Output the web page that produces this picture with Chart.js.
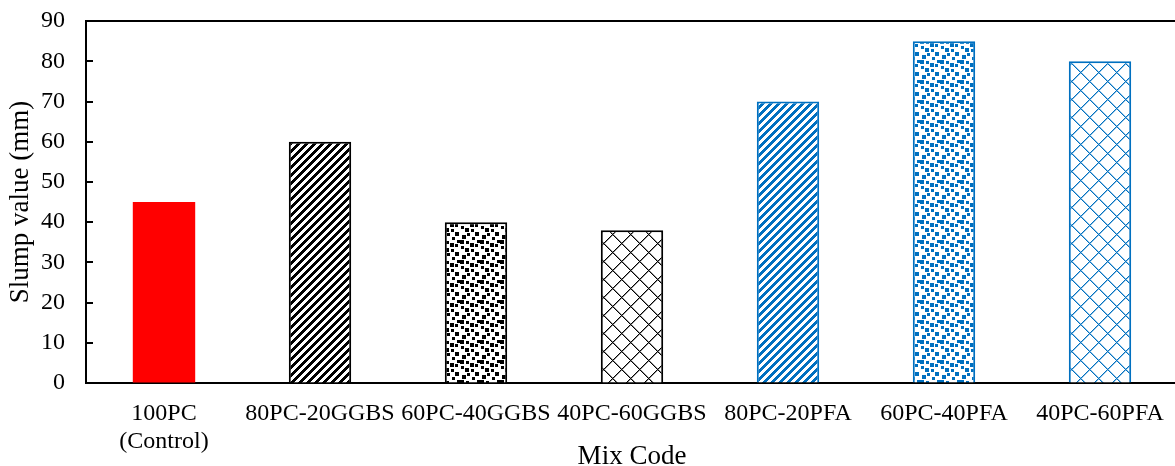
<!DOCTYPE html>
<html>
<head>
<meta charset="utf-8">
<script src="https://cdn.jsdelivr.net/npm/chart.js@4"></script>
<style>
html,body{margin:0;padding:0;background:#fff;overflow:hidden;}
#wrap{position:relative;width:1180px;height:466px;}
</style>
</head>
<body>
<div id="wrap"><canvas id="c" width="1180" height="466"></canvas></div>
<script>
const categories = [["100PC","(Control)"],"80PC-20GGBS","60PC-40GGBS","40PC-60GGBS","80PC-20PFA","60PC-40PFA","40PC-60PFA"];
const slumpValues = [45, 60, 40, 38, 70, 85, 80];
const yTicks = [0,10,20,30,40,50,60,70,80,90];
const xTitle = "Mix Code";
const yTitle = "Slump value (mm)";

const BLUE = '#0070C0';
const FONT = "'Liberation Serif', 'Times New Roman', serif";

function makeTile(size, color, test) {
  const cv = document.createElement('canvas');
  cv.width = size; cv.height = size;
  const ctx = cv.getContext('2d');
  ctx.fillStyle = '#fff';
  ctx.fillRect(0,0,size,size);
  ctx.fillStyle = color;
  for (let y=0;y<size;y++) for (let x=0;x<size;x++) {
    const v = test(x,y);
    if (v) { ctx.globalAlpha = v; ctx.fillRect(x,y,1,1); }
  }
  ctx.globalAlpha = 1;
  return document.getElementById('c').getContext('2d').createPattern(cv,'repeat');
}
function stripes(color){ return makeTile(8,color,(x,y)=>((x+y)%8)<4 ? 1 : 0); }
const confettiPts = [[0,0,4],[10,3,4],[5,8,4],[15,12,4],[2,15,4],[6,1,3],[15,4,3],[1,6,3],[11,9,3],[7,13,3],[12,17,3],[17,0,3]];
function confetti(color){
  return makeTile(20,color,(x,y)=>confettiPts.some(([px,py,s])=>{
    const dx=(x-px+20)%20, dy=(y-py+20)%20; return dx<s&&dy<s;}) ? 1 : 0);
}
function lattice(color){
  return makeTile(18,color,(x,y)=>{
    const a=(x+y)%18, b=(x-y+18)%18;
    if (a===0||b===0) return 1;
    if (a===1||b===1) return 0.45;
    return 0;
  });
}

const fills = ['#FF0000', stripes('#000'), confetti('#000'), lattice('#000'), stripes(BLUE), confetti(BLUE), lattice(BLUE)];
const borders = ['#FF0000','#000','#000','#000',BLUE,BLUE,BLUE];
const bws = [0,2,2,2,2,2,2];

const frame = {
  id:'frame',
  afterDraw(chart){
    const {ctx, chartArea:a, scales:{y}} = chart;
    ctx.save();
    ctx.strokeStyle='#000'; ctx.lineWidth=2;
    ctx.beginPath(); ctx.moveTo(a.left-1, a.top); ctx.lineTo(a.right+5, a.top); ctx.stroke();
    ctx.beginPath();
    y.ticks.forEach(t=>{ const py=Math.round(y.getPixelForValue(t.value)); ctx.moveTo(a.left, py); ctx.lineTo(a.left+7, py); });
    ctx.stroke();
    ctx.restore();
  }
};

new Chart(document.getElementById('c'), {
  type:'bar',
  data:{ labels:categories, datasets:[{ data:slumpValues, backgroundColor:fills, borderColor:borders, borderWidth:bws, barPercentage:0.4, categoryPercentage:1.0 }]},
  options:{
    responsive:false, animation:false, devicePixelRatio:1,
    layout:{padding:{top:0,right:2,left:0,bottom:0}},
    plugins:{legend:{display:false}, tooltip:{enabled:false}},
    scales:{
      x:{
        grid:{display:false, drawTicks:false},
        border:{display:true,color:'#000',width:2},
        ticks:{color:'#000', font:{family:FONT,size:24}, padding:16, maxRotation:0, autoSkip:false},
        title:{display:true,text:xTitle,color:'#000',font:{family:FONT,size:27},padding:{top:0,bottom:-7}},
        afterFit(s){ s.height = 83; }
      },
      y:{
        min:0,max:90,
        afterBuildTicks(s){ s.ticks = yTicks.map(v=>({value:v})); },
        grid:{display:true, drawOnChartArea:false, drawTicks:false},
        border:{display:true,color:'#000',width:2},
        ticks:{color:'#000', font:{family:FONT,size:24,lineHeight:0.01}, padding:21},
        title:{display:true,text:yTitle,color:'#000',font:{family:FONT,size:27},padding:{top:5,bottom:0}},
        afterFit(s){ s.width = 86; }
      }
    }
  },
  plugins:[frame]
});
</script>
</body>
</html>
